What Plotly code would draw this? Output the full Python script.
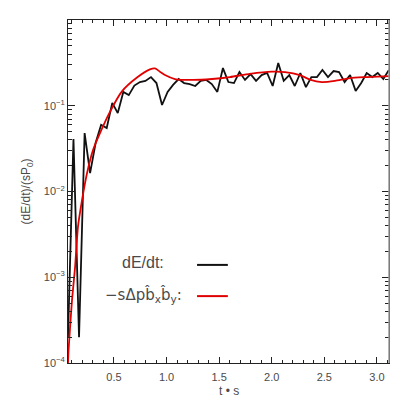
import plotly.graph_objects as go

# time grid of the simulated series
T_SIM = [0.063, 0.115, 0.168, 0.221, 0.273, 0.326, 0.378, 0.431, 0.484, 0.536,
         0.589, 0.641, 0.694, 0.747, 0.799, 0.852, 0.904, 0.957, 1.010, 1.062,
         1.115, 1.167, 1.220, 1.273, 1.325, 1.378, 1.430, 1.483, 1.536, 1.588,
         1.641, 1.693, 1.746, 1.799, 1.851, 1.904, 1.956, 2.009, 2.062, 2.114,
         2.167, 2.219, 2.272, 2.325, 2.377, 2.430, 2.482, 2.535, 2.588, 2.640,
         2.693, 2.745, 2.798, 2.851, 2.903, 2.956, 3.008, 3.061, 3.114]
DEDT = [0.0002, 0.041, 0.0002, 0.048, 0.0164, 0.037, 0.060, 0.055, 0.108, 0.082,
        0.145, 0.133, 0.172, 0.189, 0.195, 0.216, 0.184, 0.102, 0.145, 0.175,
        0.205, 0.184, 0.179, 0.170, 0.195, 0.200, 0.179, 0.145, 0.275, 0.189,
        0.184, 0.247, 0.200, 0.234, 0.195, 0.228, 0.241, 0.170, 0.315, 0.195,
        0.228, 0.170, 0.241, 0.165, 0.216, 0.216, 0.261, 0.216, 0.254, 0.247,
        0.189, 0.228, 0.149, 0.184, 0.241, 0.216, 0.241, 0.205, 0.261]

# smooth model curve
T_MODEL = [0.063, 0.068, 0.101, 0.130, 0.158, 0.196, 0.244, 0.301, 0.367, 0.462,
           0.576, 0.719, 0.842, 0.890, 0.937, 0.985, 1.080, 1.242, 1.432, 1.603,
           1.793, 2.002, 2.126, 2.268, 2.363, 2.477, 2.601, 2.744, 2.905, 3.114]
MODEL = [0.0001, 0.00014, 0.00054, 0.0013, 0.0039, 0.0079, 0.0164, 0.0305, 0.048, 0.085,
         0.147, 0.213, 0.265, 0.272, 0.250, 0.228, 0.205, 0.200, 0.205, 0.216,
         0.236, 0.250, 0.247, 0.228, 0.202, 0.189, 0.195, 0.210, 0.216, 0.222]

Y_TICKS = [1e-4, 1e-3, 1e-2, 1e-1, 1.0]
Y_TICKTEXT = ["10<sup>−4</sup>", "10<sup>−3</sup>", "10<sup>−2</sup>", "10<sup>−1</sup>", ""]
Y_MINOR = [m * 10.0 ** e for e in range(-4, 0) for m in range(2, 10)]

TEXT = "#4a4a4a"
FONT = "Liberation Sans, Arial, sans-serif"

fig = go.Figure()
fig.add_trace(go.Scatter(x=T_SIM, y=DEDT, mode="lines",
                         line=dict(color="#111111", width=1.8), showlegend=False))
fig.add_trace(go.Scatter(x=T_MODEL, y=MODEL, mode="lines", line_shape="spline",
                         line=dict(color="#e00000", width=1.8, smoothing=0.6), showlegend=False))

# page body adds an 8px offset, so the figure itself is a bit smaller
fig.update_layout(
    width=393, height=393,
    paper_bgcolor="white", plot_bgcolor="white",
    margin=dict(l=60, r=12, t=12, b=38),
    font=dict(family=FONT, size=11, color=TEXT),
    showlegend=False,
)
fig.update_xaxes(
    range=[0.063, 3.115], showgrid=False, zeroline=False,
    showline=True, linecolor="#222222", linewidth=1, mirror="ticks",
    ticks="inside", ticklen=6, tickcolor="#222222", ticklabelstandoff=4,
    tick0=0, dtick=0.5, tickformat=".1f",
    minor=dict(ticks="inside", ticklen=3, dtick=0.1, tick0=0, tickcolor="#222222", showgrid=False),
)
fig.update_yaxes(
    type="log", range=[-4, 0], showgrid=False, zeroline=False,
    showline=True, linecolor="#222222", linewidth=1, mirror="ticks",
    ticks="inside", ticklen=7, tickcolor="#222222",
    tickmode="array", tickvals=Y_TICKS, ticktext=Y_TICKTEXT,
    minor=dict(ticks="inside", ticklen=4, tickmode="array", tickvals=Y_MINOR,
               tickcolor="#222222", showgrid=False),
)

# right frame edge drawn lighter, as in the original
fig.add_shape(type="line", xref="paper", yref="paper", x0=1, x1=1, y0=0, y1=1,
              line=dict(color="#9a9a9a", width=1.5))

fig.add_annotation(text="(dE/dt)/(sP<sub>0</sub>)", xref="paper", yref="paper",
                   x=-0.128, y=0.5, textangle=-90, showarrow=False,
                   xanchor="center", yanchor="middle", font=dict(size=12, color=TEXT))
fig.add_annotation(text="t • s", xref="paper", yref="paper", x=0.5, y=-0.082,
                   showarrow=False, xanchor="center", yanchor="middle",
                   font=dict(size=12, color=TEXT))

# hand-made legend: label then line sample
fig.add_annotation(text="dE/dt:", xref="paper", yref="paper", x=0.234, y=0.292,
                   showarrow=False, xanchor="center", yanchor="middle",
                   font=dict(size=16, color=TEXT))
fig.add_annotation(text="−sΔpb̂<sub>x</sub>b̂<sub>y</sub>:", xref="paper", yref="paper",
                   x=0.234, y=0.198, showarrow=False, xanchor="center", yanchor="middle",
                   font=dict(size=15, color=TEXT, family="DejaVu Sans"))
fig.add_shape(type="line", xref="paper", yref="paper", x0=0.402, x1=0.498, y0=0.286, y1=0.286,
              line=dict(color="#111111", width=2))
fig.add_shape(type="line", xref="paper", yref="paper", x0=0.402, x1=0.498, y0=0.195, y1=0.195,
              line=dict(color="#e00000", width=2))

fig.write_html("out.html")
